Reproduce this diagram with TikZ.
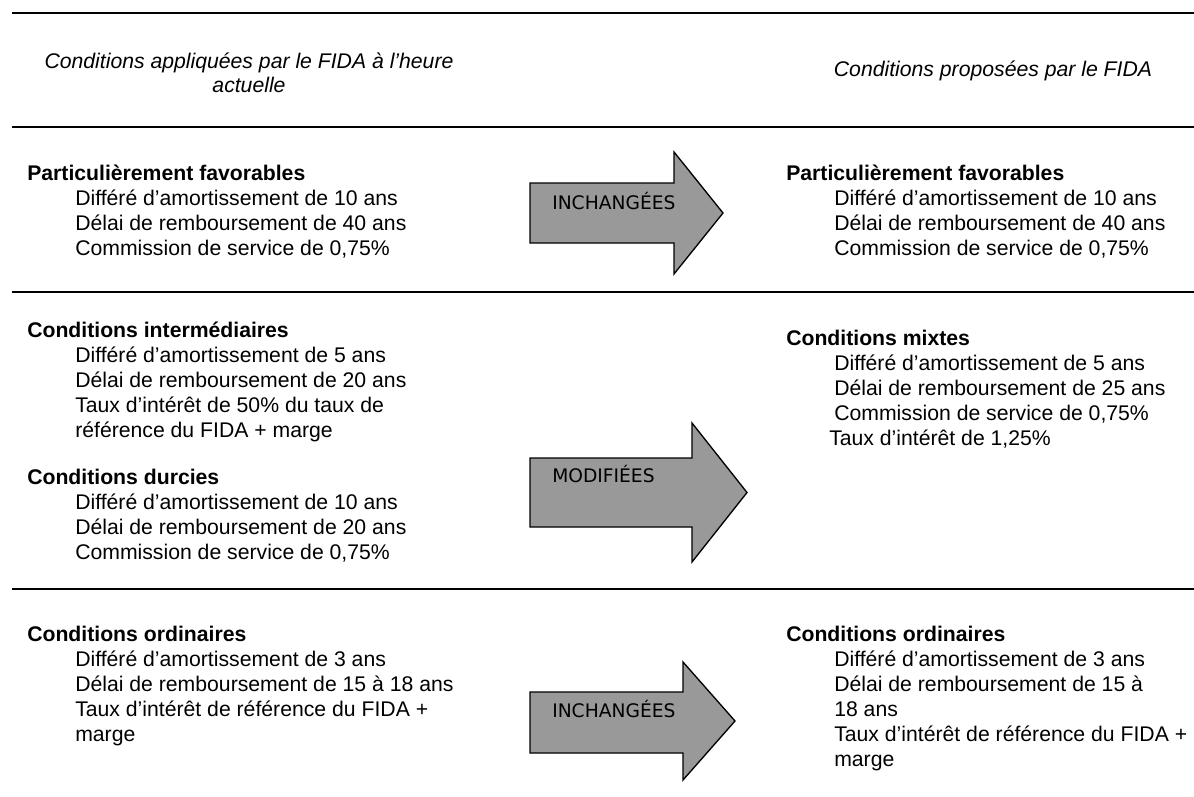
\documentclass[tikz,border=0pt]{standalone}
\usepackage{fontspec}
\setmainfont{Liberation Sans}
\newfontfamily\arrfont{DejaVu Sans}
\usepackage{tikz}
\usetikzlibrary{positioning}
\definecolor{argrey}{HTML}{999999}
\newcommand{\bodyfont}{\fontsize{15.9pt}{18.375pt}\selectfont}

\begin{document}
\begin{tikzpicture}[
  x=0.75pt, y=-0.75pt,
  txt/.style={inner sep=0pt, text height=14pt, text depth=4.375pt, font=\bodyfont},
  head/.style={txt, anchor=base west, font=\bodyfont\bfseries},
  item/.style={txt, anchor=north west},
  indent/.style={item, below right=0pt and 36pt of #1.south west},
  follow/.style={item, below right=0pt and 0pt of #1.south west},
  ttl/.style={inner sep=0pt, align=center, font=\bodyfont\itshape},
  rule/.style={line width=1.5pt},
  blk/.style={draw=black, line width=1pt, fill=argrey, line join=miter},
  tag/.style={inner sep=0pt, anchor=west, font=\arrfont\fontsize{14pt}{16pt}\selectfont}
]
\useasboundingbox (0,0) rectangle (1194,796);
\foreach \yy in {13,127,292,589} \draw[rule] (12,\yy) -- (1194,\yy);

\node[ttl] (hcur) at (249,73) {Conditions appliquées par le FIDA à l’heure\\actuelle};
\node[ttl] (hprop) at (993,71) {Conditions proposées par le FIDA};

% block arrows
\filldraw[blk] (530,183) -- (674,183) -- (674,152) -- (723,213) -- (674,274) -- (674,243) -- (530,243) -- cycle;
\filldraw[blk] (530,458) -- (692,458) -- (692,423) -- (747,492.5) -- (692,562) -- (692,527) -- (530,527) -- cycle;
\filldraw[blk] (530,692) -- (683,692) -- (683,662) -- (735,721) -- (683,780) -- (683,753) -- (530,753) -- cycle;
\node[tag] (inch1) at (552,201) {INCHANGÉES};
\node[tag] (modif) at (552,474) {MODIFIÉES};
\node[tag] (inch2) at (552,709) {INCHANGÉES};

% row 1
\node[head] (lfav) at (27,180) {Particulièrement favorables};
\node[indent=lfav] (lfav1) {Différé d’amortissement de 10 ans};
\node[follow=lfav1] (lfav2) {Délai de remboursement de 40 ans};
\node[follow=lfav2] (lfav3) {Commission de service de 0,75\%};
\node[head] (rfav) at (786,180) {Particulièrement favorables};
\node[indent=rfav] (rfav1) {Différé d’amortissement de 10 ans};
\node[follow=rfav1] (rfav2) {Délai de remboursement de 40 ans};
\node[follow=rfav2] (rfav3) {Commission de service de 0,75\%};

% row 2
\node[head] (lint) at (27,337) {Conditions intermédiaires};
\node[indent=lint] (lint1) {Différé d’amortissement de 5 ans};
\node[follow=lint1] (lint2) {Délai de remboursement de 20 ans};
\node[follow=lint2] (lint3) {Taux d’intérêt de 50\% du taux de};
\node[follow=lint3] (lint4) {référence du FIDA + marge};
\node[head] (ldur) at (27,484) {Conditions durcies};
\node[indent=ldur] (ldur1) {Différé d’amortissement de 10 ans};
\node[follow=ldur1] (ldur2) {Délai de remboursement de 20 ans};
\node[follow=ldur2] (ldur3) {Commission de service de 0,75\%};
\node[head] (rmix) at (786,345) {Conditions mixtes};
\node[indent=rmix] (rmix1) {Différé d’amortissement de 5 ans};
\node[follow=rmix1] (rmix2) {Délai de remboursement de 25 ans};
\node[follow=rmix2] (rmix3) {Commission de service de 0,75\%};
\node[item, below right=0pt and -3.75pt of rmix3.south west] (rmix4) {Taux d’intérêt de 1,25\%};

% row 3
\node[head] (lord) at (27,641) {Conditions ordinaires};
\node[indent=lord] (lord1) {Différé d’amortissement de 3 ans};
\node[follow=lord1] (lord2) {Délai de remboursement de 15 à 18 ans};
\node[follow=lord2] (lord3) {Taux d’intérêt de référence du FIDA +};
\node[follow=lord3] (lord4) {marge};
\node[head] (rord) at (786,641) {Conditions ordinaires};
\node[indent=rord] (rord1) {Différé d’amortissement de 3 ans};
\node[follow=rord1] (rord2) {Délai de remboursement de 15 à};
\node[follow=rord2] (rord3) {18 ans};
\node[follow=rord3] (rord4) {Taux d’intérêt de référence du FIDA +};
\node[follow=rord4] (rord5) {marge};
\end{tikzpicture}
\end{document}
